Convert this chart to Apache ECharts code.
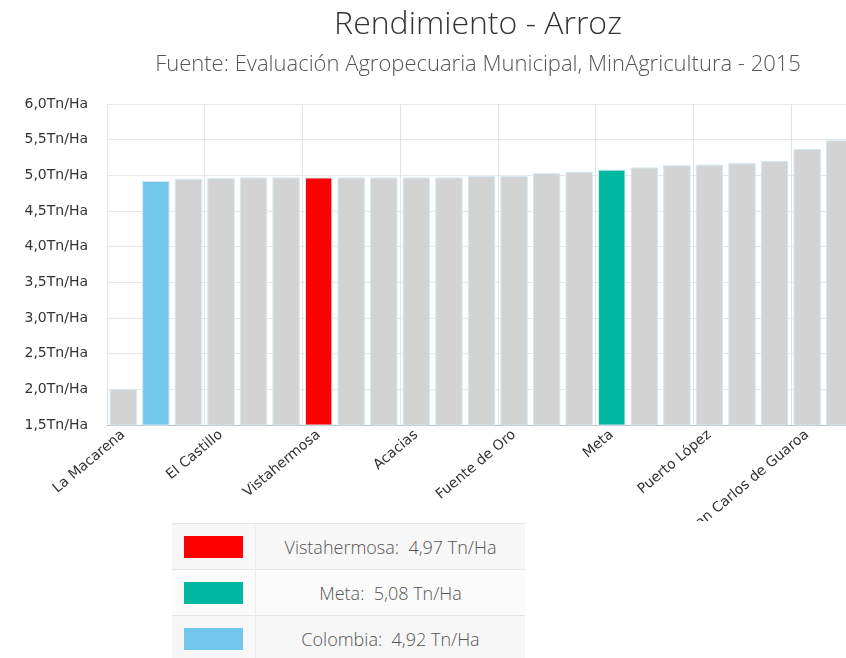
<!DOCTYPE html>
<html>
<head>
<meta charset="utf-8">
<script src="https://cdn.jsdelivr.net/npm/echarts@6/dist/echarts.min.js"></script>
<style>
  html, body { margin: 0; padding: 0; background: #fff; }
  #wrap { position: relative; width: 846px; height: 658px; overflow: hidden; }
  #chart { position: absolute; left: 0; top: 0; width: 846px; height: 521px; }
  /* tabla de leyenda */
  #leyenda { position: absolute; left: 172px; top: 523px; width: 353px; border-collapse: collapse;
             font-family: "Open Sans", sans-serif; font-weight: 300; font-size: 18px; color: #555; }
  #leyenda td { height: 45px; border-top: 1px solid #e6e6e6; background: #f7f7f7; padding: 0; }
  #leyenda tr:nth-child(2) td { background: #fbfbfb; }
  #leyenda td.sw { width: 71px; padding-left: 12px; }
  #leyenda td.tx { text-align: center; border-left: 1px solid #efefef; }
  #leyenda .caja { width: 59px; height: 22px; }
</style>
</head>
<body>
<div id="wrap">
  <div id="chart"></div>
  <table id="leyenda"></table>
</div>
<script>
// datos
var categorias = ['La Macarena', 'Colombia', 'Puerto Lleras', 'El Castillo', 'Puerto Rico', 'Mesetas',
  'Vistahermosa', 'Granada', 'San Juan de Arama', 'Acacias', 'Lejanías', 'Puerto Concordia',
  'Fuente de Oro', 'Cabuyaro', 'San Martín', 'Meta', 'Villavicencio', 'Puerto Gaitán',
  'Puerto López', 'Castilla la Nueva', 'Cumaral', 'San Carlos de Guaroa', 'Restrepo'];
var rendimiento = [2.00, 4.92, 4.95, 4.96, 4.97, 4.97, 4.97, 4.97, 4.97, 4.97, 4.97, 4.99,
  4.99, 5.03, 5.05, 5.08, 5.11, 5.14, 5.15, 5.17, 5.20, 5.37, 5.49];
var destacados = ['Vistahermosa', 'Meta', 'Colombia'];
var coloresDestacados = ['#ff0000', '#00b89f', '#72c6ec'];
var ticksY = [1.5, 6.0];

function fmt(v, d) { return v.toFixed(d).replace('.', ','); }

var datos = categorias.map(function (c, i) {
  var k = destacados.indexOf(c);
  return {
    value: rendimiento[i],
    itemStyle: { color: k >= 0 ? coloresDestacados[k] : '#d3d3d3' }
  };
});

var chart = echarts.init(document.getElementById('chart'));
chart.setOption({
  animation: false,
  title: {
    text: 'Rendimiento - Arroz',
    subtext: 'Fuente: Evaluación Agropecuaria Municipal, MinAgricultura - 2015',
    left: 473, top: 4, textAlign: 'center', itemGap: 13,
    textStyle: { fontFamily: 'Open Sans', fontWeight: 300, fontSize: 32, color: '#333' },
    subtextStyle: { fontFamily: 'Open Sans', fontWeight: 300, fontSize: 22, color: '#555' }
  },
  grid: { left: 107, top: 104, width: 749, height: 321, outerBoundsMode: 'none' },
  xAxis: {
    type: 'category',
    data: categorias,
    axisLine: { lineStyle: { color: '#c0c0c0' } },
    axisTick: { interval: 2, alignWithLabel: true, length: 5, lineStyle: { color: '#c0c0c0' } },
    splitLine: { show: true, interval: 2, lineStyle: { color: '#e3e3e3' } },
    axisLabel: { interval: 2, rotate: 40, margin: 8, fontFamily: 'DejaVu Sans', fontSize: 14, color: '#333' }
  },
  yAxis: {
    type: 'value',
    min: ticksY[0], max: ticksY[1], interval: 0.5,
    axisLine: { show: false },
    axisTick: { show: false },
    splitLine: { lineStyle: { color: '#e6e6e6' } },
    axisLabel: {
      margin: 19, fontFamily: 'DejaVu Sans', fontSize: 14, color: '#333',
      formatter: function (v) { return fmt(v, 1) + 'Tn/Ha'; }
    }
  },
  series: [{
    type: 'bar',
    data: datos,
    barCategoryGap: '16%',
    itemStyle: { borderColor: '#d2e8f2', borderWidth: 1 }
  }]
});

// leyenda en tabla
var filas = '';
destacados.forEach(function (d, k) {
  var v = rendimiento[categorias.indexOf(d)];
  filas += '<tr><td class="sw"><div class="caja" style="background:' + coloresDestacados[k] + '"></div></td>' +
           '<td class="tx">' + d + ':&nbsp; ' + fmt(v, 2) + ' Tn/Ha</td></tr>';
});
document.getElementById('leyenda').innerHTML = filas;
</script>
</body>
</html>
